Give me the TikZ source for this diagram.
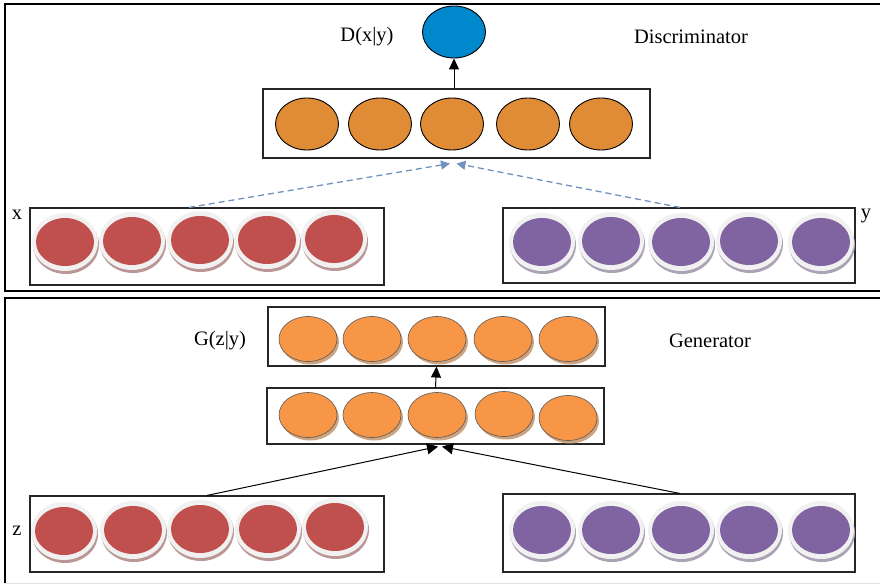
\documentclass[tikz,border=0pt]{standalone}
\usepackage{fontspec}
\setmainfont{Liberation Serif}
\usetikzlibrary{shapes.geometric,arrows.meta,shadows,calc}
\definecolor{dred}{HTML}{C0504D}
\definecolor{dpurple}{HTML}{8064A2}
\definecolor{dorange}{HTML}{E08B35}
\definecolor{gorange}{HTML}{F79646}
\definecolor{dblue}{HTML}{0088CC}
\definecolor{rimgray}{HTML}{F1F1F1}
\definecolor{redshadow}{HTML}{BA9695}
\definecolor{purpleshadow}{HTML}{AAA3B4}
\definecolor{orangeshadow}{HTML}{CDA482}
\definecolor{dashblue}{HTML}{7092BE}
\begin{document}
\begin{tikzpicture}[x=1pt,y=-1pt,
  lbl/.style={font=\fontsize{20.5}{24}\selectfont, inner sep=0},
  layer/.style={draw=black!85, line width=1.1pt, inner sep=0, minimum width=#1},
  dunit/.style={ellipse, draw=black, line width=0.9pt, fill=dorange,
    minimum width=63pt, minimum height=52pt, inner sep=0},
  gunit/.style={ellipse, draw=black!65, line width=0.6pt, fill=gorange,
    minimum width=58pt, minimum height=45pt, inner sep=0,
    drop shadow={shadow xshift=2pt, shadow yshift=-3pt, fill=orangeshadow, opacity=1}},
  rim/.style={ellipse, fill=rimgray, minimum width=66pt, minimum height=58pt, inner sep=0,
    drop shadow={shadow xshift=1pt, shadow yshift=-3pt, fill=#1, opacity=1}},
  core/.style={ellipse, fill=#1, minimum width=58pt, minimum height=48pt, inner sep=0},
  upflow/.style={-{Triangle[width=10pt,length=11pt]}, line width=1pt, black},
  condflow/.style={-{Triangle[width=9pt,length=9pt]}, line width=1.3pt, dashblue,
    dash pattern=on 6pt off 4pt},
  genflow/.style={-{Triangle[width=11pt,length=11pt]}, line width=1pt, black},
]
\useasboundingbox (0,0) rectangle (880,585);

% panel frames
\draw[line width=1.3pt] (880,4) -- (5,4) -- (5,291) -- (880,291);
\draw[line width=1.3pt] (880,298) -- (5,298) -- (5,583);
\draw[line width=1pt, black!12] (5,583) -- (880,583);

% ---------------- discriminator ----------------
\node[ellipse, draw=black, line width=0.9pt, fill=dblue,
      minimum width=63pt, minimum height=52pt, inner sep=0] (dout) at (454,32) {};
\node[lbl] (dlabel) at (367,37) {D(x|y)};
\node[lbl] (dtitle) at (691,37) {Discriminator};

\node[layer=387pt, minimum height=69pt] (dh) at (456.5,123.5) {};
\foreach \i/\x in {1/307,2/380,3/452,4/528,5/601}
  \node[dunit] (dh\i) at (\x,124) {};

\node[layer=354pt, minimum height=77pt] (xbox) at (207,246.5) {};
\foreach \i/\x/\y in {1/65/242,2/132/241,3/200/240,4/267/240,5/334/239}{
  \node[rim=redshadow] (xr\i) at (\x,\y) {};
  \node[core=dred] (x\i) at (\x,\y) {};
}
\node[lbl] (xlabel) at (17,215) {x};

\node[layer=352pt, minimum height=75pt] (ybox) at (679,245.5) {};
\foreach \i/\x/\y in {1/542/242,2/611/241,3/681/242,4/749/241,5/821/242}{
  \node[rim=purpleshadow] (yr\i) at (\x,\y) {};
  \node[core=dpurple] (y\i) at (\x,\y) {};
}
\node[lbl] (ylabel) at (866,216) {y};

\draw[upflow] (dout.south |- dh.north) -- (dout.south);
\draw[condflow] ($(xbox.north)+(-18,0)$) -- ($(dh.south)+(-6.5,5)$);
\draw[condflow] ($(ybox.north)+(1,0)$) -- ($(dh.south)+(0,5)$);

% ---------------- generator ----------------
\node[lbl] (glabel) at (220,341) {G(z|y)};
\node[lbl] (gtitle) at (710,341) {Generator};

\node[layer=337pt, minimum height=59pt] (gout) at (436.5,336.5) {};
\foreach \i/\x in {1/308,2/372,3/437,4/503,5/568}
  \node[gunit] (go\i) at (\x,339) {};

\node[layer=337pt, minimum height=56pt] (ghid) at (435.5,416) {};
\foreach \i/\x/\y in {1/308/415,2/372/415,3/437/415,4/504/414,5/568/418}
  \node[gunit] (gh\i) at (\x,\y) {};

\node[layer=354pt, minimum height=76pt] (zbox) at (207,534) {};
\foreach \i/\x/\y in {1/64/531,2/133/530,3/200/529,4/268/529,5/335/527}{
  \node[rim=redshadow] (zr\i) at (\x,\y) {};
  \node[core=dred] (z\i) at (\x,\y) {};
}
\node[lbl] (zlabel) at (17,531) {z};

\node[layer=352pt, minimum height=78pt] (cbox) at (679,533) {};
\foreach \i/\x in {1/542,2/611,3/681,4/749,5/821}{
  \node[rim=purpleshadow] (cr\i) at (\x,530) {};
  \node[core=dpurple] (c\i) at (\x,530) {};
}

\draw[upflow] (ghid.north) -- (gout.south);
\draw[genflow] (zbox.north) -- ($(ghid.south)+(2.5,2)$);
\draw[genflow] ($(cbox.north)+(1,0)$) -- ($(ghid.south)+(6.5,2)$);
\end{tikzpicture}
\end{document}
